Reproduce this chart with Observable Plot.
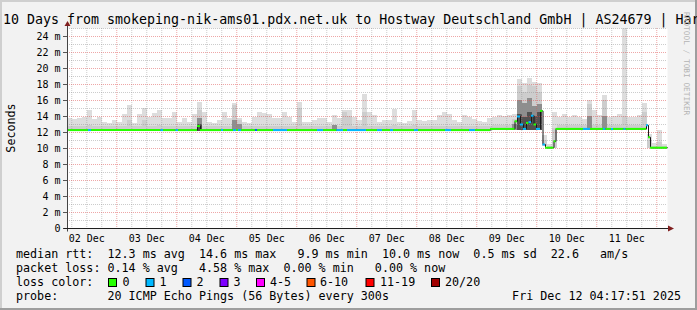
<!DOCTYPE html>
<html><head><meta charset="utf-8">
<script src="https://cdn.jsdelivr.net/npm/d3@7"></script>
<script src="https://cdn.jsdelivr.net/npm/@observablehq/plot@0.6"></script>
<style>
html,body{margin:0;padding:0;background:#f2f2f2;}
svg text{font-family:"DejaVu Sans Mono",monospace;}
</style></head><body><div id="chart"></div>
<script>
// ---------- data ----------
const startTime = "2025-12-02T04:17:51Z";
const endTime = "2025-12-12T04:17:51Z";
const binHours = 2;
// smoke (ms), one value per 2-hour bin
const smokeMax = [13.8,13.6,13.7,13.9,14.75,13.6,13.9,13.3,13.1,13.5,
 13.3,14.3,15.4,13.1,14.2,15.0,13.9,14.4,14.7,13.7,
 13.7,14.5,13.3,13.7,13.3,14.3,15.8,14.5,13.3,13.1,
 13.5,14.5,13.7,15.6,13.7,13.3,13.1,13.9,14.5,14.4,
 14.3,13.7,13.7,14.5,13.9,13.3,15.8,13.3,13.3,13.5,
 13.8,13.8,13.3,14.1,13.7,14.75,14.75,13.9,13.5,16.8,
 14.5,14.1,13.3,13.5,13.5,14.9,13.3,13.1,13.4,14.75,
 13.5,13.4,13.5,13.5,14.1,14.5,14.3,13.5,13.3,14.1,
 13.9,13.6,13.4,13.3,13.8,13.9,14.1,14.0,14.1,14.3,
 18.6,18.1,18.8,18.3,18.1,11.6,10.5,14.5,13.9,14.3,
 13.9,14.1,13.9,13.6,16.0,14.75,14.1,16.6,13.9,14.0,
 14.3,25.0,13.9,13.9,14.1,15.6,11.7,10.6,12.2,10.5];
const smokeLow = [12.1,12.1,12.1,12.1,12.1,12.1,12.1,12.1,12.1,12.1,
 12.1,12.1,12.1,12.1,12.1,12.1,12.1,12.1,12.1,12.1,
 12.1,12.1,12.1,12.1,12.1,12.1,12.1,12.1,12.1,12.1,
 12.1,12.1,12.1,12.1,12.1,12.1,12.1,12.1,12.1,12.1,
 12.1,12.1,12.1,12.1,12.1,12.1,12.1,12.1,12.1,12.1,
 12.1,12.1,12.1,12.1,12.1,12.1,12.1,12.1,12.1,12.1,
 12.1,12.1,12.1,12.1,12.1,12.1,12.1,12.1,12.1,12.1,
 12.1,12.1,12.1,12.1,12.1,12.1,12.1,12.1,12.1,12.1,
 12.1,12.1,12.1,12.1,12.1,12.2,12.2,12.2,12.2,12.2,
 12.3,12.3,12.3,12.3,12.3,10.2,9.9,10.0,12.2,12.2,
 12.2,12.2,12.2,12.2,12.2,12.2,12.2,12.2,12.2,12.2,
 12.2,12.2,12.2,12.2,12.2,12.3,10.0,9.9,9.9,9.9];
const smokeMid = [12.8,12.8,12.8,12.8,12.9,12.8,12.8,12.8,12.8,12.8,
 12.8,12.8,13.5,12.8,12.8,13.5,12.8,12.8,12.9,12.8,
 12.8,12.8,12.8,12.8,12.8,12.8,14.75,12.8,12.8,12.8,
 12.8,12.8,12.8,15.4,13.5,12.8,12.8,12.8,12.8,12.8,
 12.8,12.8,12.8,12.8,12.8,12.8,15.0,12.8,12.8,12.8,
 12.8,12.8,12.8,12.9,12.8,14.5,14.0,12.8,12.8,14.5,
 12.8,12.8,12.8,12.8,12.8,12.9,12.8,12.8,12.8,12.9,
 12.8,12.8,12.8,12.8,12.8,12.8,12.8,12.8,12.8,12.8,
 12.8,12.8,12.8,12.8,12.8,12.9,12.9,12.9,12.9,13.6,
 17.7,17.0,17.9,17.7,17.0,11.0,10.2,12.5,12.9,12.9,
 12.9,12.9,12.9,12.9,15.5,12.9,12.9,16.0,12.9,12.9,
 12.9,14.0,12.9,12.9,12.9,14.5,11.0,10.2,10.8,10.2];
const deepBins = [26,33,34,53,89,90,91,92,93,94,104,107];
const deepTops = [13.7,13.5,13.0,12.9,13.0,16.0,15.6,16.2,15.2,15.5,14.0,14.0];
const coreBins = [26,90,91,92,93,94];
const coreTops = [13.0,14.3,13.9,14.5,14.0,14.5];
// median rtt steps: start hour (from startTime), value (ms), lost pings
const medianHours = [0,8.4,9.6,37.4,38.4,43.4,44.4,52.0,53.2,61.6,62.4,66.4,67.6,68.4,69.6,75.2,76.0,82.4,88.0,100.0,
 102.4,107.8,110.4,112.0,119.6,124.0,126.0,129.2,130.4,138.8,140.4,151.2,153.6,160.8,163.2,169.2,179.0,180.0,181.2,182.4,
 183.6,184.6,185.6,186.6,187.6,189.2,190.2,191.2,194.6,195.4,206.4,209.2,214.4,215.4,217.6,218.4,222.6,223.4,231.6,232.4,233.2];
const medianMs = [12.3,12.3,12.3,12.3,12.3,12.3,12.3,12.8,12.3,12.3,12.3,12.3,12.3,12.3,12.3,12.3,12.3,12.3,12.3,12.3,
 12.3,12.3,12.3,12.3,12.3,12.3,12.3,12.3,12.3,12.3,12.3,12.3,12.3,12.3,12.3,12.45,13.4,14.0,13.0,12.45,
 13.2,13.3,14.1,13.0,12.45,14.7,10.5,10.1,10.9,12.45,12.45,12.45,12.45,12.45,12.45,12.45,12.45,12.45,12.9,11.4,10.1];
const medianLoss = [0,1,0,1,0,1,0,0,0,1,0,1,0,1,0,2,0,1,0,1,
 0,1,0,1,0,1,0,1,0,1,0,1,0,1,0,0,0,1,1,1,
 0,1,1,0,1,0,1,0,0,0,1,0,1,0,1,0,1,0,1,0,0];
const lossLabels = ["0","1","2","3","4-5","6-10","11-19","20/20"];
const lossColors = ["#26ff00","#00b8ff","#0059ff","#7e00ff","#ff00ff","#ff5500","#ff0000","#a10000"];
const yTicks = [0,2,4,6,8,10,12,14,16,18,20,22,24];
const yTickLabels = ["0","2 m","4 m","6 m","8 m","10 m","12 m","14 m","16 m","18 m","20 m","22 m","24 m"];
const dayLabels = ["02 Dec","03 Dec","04 Dec","05 Dec","06 Dec","07 Dec","08 Dec","09 Dec","10 Dec","11 Dec"];
const titleText = "10 Days from smokeping-nik-ams01.pdx.net.uk to Hostway Deutschland GmbH | AS24679 | Har";
const yLabel = "Seconds";
const watermark = "RRDTOOL / TOBI OETIKER";
const legendRtt = "median rtt:  12.3 ms avg  14.6 ms max   9.9 ms min  10.0 ms now  0.5 ms sd  22.6   am/s";
const legendLoss = "packet loss: 0.14 % avg   4.58 % max  0.00 % min   0.00 % now";
const legendLossColor = "loss color:";
const legendProbe = "probe:       20 ICMP Echo Pings (56 Bytes) every 300s";
const legendDate = "Fri Dec 12 04:17:51 2025";

// ---------- derived rows ----------
const t0 = new Date(startTime), tEnd = new Date(endTime);
const at = h => new Date(t0.getTime() + h * 3600e3);
const bins = smokeMax.map((m, i) => ({t1: at(i * binHours), t2: at((i + 1) * binHours), low: smokeLow[i], mid: smokeMid[i], max: m}));
const deepRows = deepBins.map((b, k) => ({t1: at(b * binHours), t2: at((b + 1) * binHours), low: smokeLow[b], top: deepTops[k]}));
const coreRows = coreBins.map((b, k) => ({t1: at(b * binHours), t2: at((b + 1) * binHours), low: smokeLow[b], top: coreTops[k]}));
const lossClass = n => n === 0 ? 0 : n === 1 ? 1 : n === 2 ? 2 : n === 3 ? 3 : n <= 5 ? 4 : n <= 10 ? 5 : n <= 19 ? 6 : 7;
const totalHours = (tEnd - t0) / 3600e3;
const medSegs = medianHours.map((h, k) => ({t1: at(h), t2: at(k + 1 < medianHours.length ? medianHours[k + 1] : totalHours), v: medianMs[k], c: lossColors[lossClass(medianLoss[k])]}));
const medPts = medianHours.map((h, k) => ({t: at(h), v: medianMs[k]})).concat([{t: tEnd, v: medianMs[medianMs.length - 1]}]);
const minorY = d3.range(1, 26, 2);
const majorY = d3.range(2, 25, 2);
const majorX = d3.utcDay.range(t0, tEnd);
const minorX = d3.utcHour.every(6).range(t0, tEnd).filter(d => d.getUTCHours() !== 0);
const dayNoons = d3.utcDay.range(d3.utcDay.floor(t0), tEnd).map(d => d3.utcHour.offset(d, 12)).slice(0, dayLabels.length);

const plot = Plot.plot({
  width: 697, height: 310,
  marginLeft: 67, marginRight: 30, marginTop: 28, marginBottom: 82,
  x: {type: "utc", domain: [t0, tEnd], axis: null, label: null},
  y: {domain: [0, 25], axis: null, label: null},
  color: {type: "identity"},
  style: {background: "#f2f2f2", fontFamily: "DejaVu Sans Mono", fontSize: "10px", color: "black"},
  marks: [
    Plot.frame({fill: "white", stroke: "none"}),
    Plot.rectY(bins, {x1: "t1", x2: "t2", y1: "low", y2: "max", fill: "#dddddd", shapeRendering: "crispEdges"}),
    Plot.rectY(bins, {x1: "t1", x2: "t2", y1: "low", y2: "mid", fill: "#cdcdcd", shapeRendering: "crispEdges"}),
    Plot.rectY(deepRows, {x1: "t1", x2: "t2", y1: "low", y2: "top", fill: "#8e8e8e", shapeRendering: "crispEdges"}),
    Plot.rectY(coreRows, {x1: "t1", x2: "t2", y1: "low", y2: "top", fill: "#505050", shapeRendering: "crispEdges"}),
    Plot.ruleY(minorY, {stroke: "#8f8f8f", strokeOpacity: 0.45, strokeDasharray: "1,1"}),
    Plot.ruleX(minorX, {stroke: "#8f8f8f", strokeOpacity: 0.45, strokeDasharray: "1,1"}),
    Plot.ruleY(majorY, {stroke: "#de4f4f", strokeOpacity: 0.5, strokeDasharray: "1,1"}),
    Plot.ruleX(majorX, {stroke: "#de4f4f", strokeOpacity: 0.5, strokeDasharray: "1,1"}),
    Plot.line(medPts, {x: "t", y: "v", curve: "step-after", stroke: "#1a1a1a", strokeWidth: 1}),
    Plot.ruleY(medSegs, {y: "v", x1: "t1", x2: "t2", stroke: "c", strokeWidth: 2}),
    Plot.axisY(yTicks, {tickFormat: d => yTickLabels[yTicks.indexOf(d)], tickSize: 4, tickPadding: 3, fontSize: 10, label: null, stroke: "#555"}),
    Plot.axisX(dayNoons, {tickFormat: d => dayLabels[dayNoons.findIndex(n => +n === +d)], tickSize: 0, tickPadding: 6, fontSize: 10, label: null})
  ]
});

const svg = d3.select(plot);
const xs = plot.scale("x"), ys = plot.scale("y");
const x0 = Math.round(xs.apply(t0)) + 0.5, x1 = xs.apply(tEnd), y0 = Math.round(ys.apply(0)) + 0.5, yTop = ys.apply(25);
// axes lines and arrows
svg.append("line").attr("x1", x0).attr("x2", x0).attr("y1", y0 + 3).attr("y2", yTop - 2).attr("stroke", "#444");
svg.append("line").attr("x1", x0 - 4).attr("x2", x1 + 1).attr("y1", y0).attr("y2", y0).attr("stroke", "#1f1f1f");
svg.append("path").attr("d", `M${x0 - 3},${yTop - 2}L${x0 + 3},${yTop - 2}L${x0},${yTop - 7}Z`).attr("fill", "#801f1f");
svg.append("path").attr("d", `M${x1 + 1},${y0 - 3}L${x1 + 1},${y0 + 3}L${x1 + 7},${y0}Z`).attr("fill", "#801f1f");
// 3D frame
svg.append("rect").attr("x", 0).attr("y", 0).attr("width", 697).attr("height", 2).attr("fill", "#cfcfcf");
svg.append("rect").attr("x", 0).attr("y", 0).attr("width", 2).attr("height", 310).attr("fill", "#cfcfcf");
svg.append("rect").attr("x", 0).attr("y", 308).attr("width", 697).attr("height", 2).attr("fill", "#9e9e9e");
svg.append("rect").attr("x", 695).attr("y", 0).attr("width", 2).attr("height", 310).attr("fill", "#9e9e9e");

const txt = (s, x, y, size, opts = {}) => {
  const t = svg.append("text").attr("x", x).attr("y", y).attr("font-size", size)
    .attr("font-family", "DejaVu Sans Mono").attr("fill", opts.fill || "black")
    .attr("text-anchor", opts.anchor || "start")
    .attr("xml:space", "preserve").style("white-space", "pre").text(s);
  if (opts.transform) t.attr("transform", opts.transform);
  return t;
};
txt(titleText, 3, 24, 13.3);
txt(yLabel, 14.5, 128, 11.7, {anchor: "middle", transform: "rotate(-90,14.5,128)"});
txt(watermark, 684, 12, 7.8, {fill: "#b4b4b4", transform: "rotate(90,684,12)"});
txt(legendRtt, 16, 258, 11.7);
txt(legendLoss, 16, 272, 11.7);
txt(legendLossColor, 16, 286, 11.7);
txt(legendProbe, 16, 300, 11.7);
txt(legendDate, 681, 300, 11.7, {anchor: "end"});
const boxX = [108, 145.5, 182.5, 219.5, 256, 306.5, 365.5, 431];
const labX = [122.5, 159.5, 196.5, 233.5, 270, 320, 380, 445];
lossLabels.forEach((l, i) => {
  svg.append("rect").attr("x", boxX[i] + 0.5).attr("y", 278.5).attr("width", 8).attr("height", 8)
    .attr("fill", lossColors[i]).attr("stroke", "black").attr("stroke-width", 1);
  txt(l, labX[i], 286, 11.7);
});
document.getElementById("chart").append(plot);
</script></body></html>
